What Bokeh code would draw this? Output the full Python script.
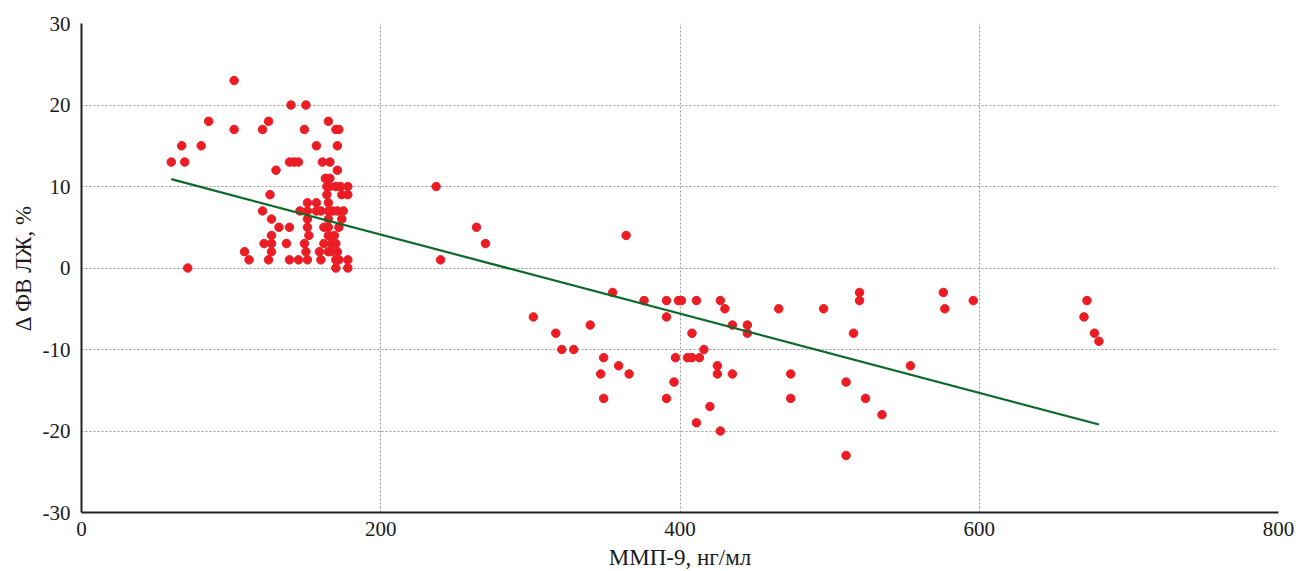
from bokeh.plotting import figure
from bokeh.models import Range1d, FixedTicker, PrintfTickFormatter
from bokeh.embed import file_html
from bokeh.resources import INLINE

# MMP-9 (ng/ml) and delta LVEF (%)
mmp9 = [
    102,
    140, 150,
    85, 125, 165,
    102, 121, 149, 170, 172,
    67, 80, 157, 171,
    60, 69, 139, 142, 145, 161, 166,
    130, 171,
    163, 166,
    164, 166, 170, 173, 178, 237,
    126, 164, 174, 178,
    151, 157, 165,
    121, 146, 151, 157, 160, 165, 168, 171, 175,
    127, 151, 165, 174,
    132, 139, 151, 162, 165, 172, 264,
    127, 152, 165, 169, 364,
    122, 127, 137, 149, 162, 167, 170, 270,
    109, 127, 150, 159, 165, 167, 171,
    112, 125, 139, 145, 151, 160, 170, 172, 178, 240,
    71, 170, 178,
    355, 520, 576,
    376, 391, 399, 401, 411, 427, 520, 596, 672,
    430, 466, 496, 577,
    302, 391, 670,
    340, 435, 445,
    317, 408, 445, 516, 677,
    680,
    321, 329, 416,
    349, 397, 405, 408, 413,
    359, 425, 554,
    347, 366, 425, 435, 474,
    396, 511,
    349, 391, 474, 524,
    420,
    535,
    411,
    427,
    511,
]
delta_lvef = (
    [23] * 1 + [20] * 2 + [18] * 3 + [17] * 5 + [15] * 4 + [13] * 7 + [12] * 2 + [11] * 2
    + [10] * 6 + [9] * 4 + [8] * 3 + [7] * 9 + [6] * 4 + [5] * 7 + [4] * 5 + [3] * 8
    + [2] * 7 + [1] * 10 + [0] * 3
    + [-3] * 3 + [-4] * 9 + [-5] * 4 + [-6] * 3 + [-7] * 3 + [-8] * 5 + [-9] * 1
    + [-10] * 3 + [-11] * 5 + [-12] * 3 + [-13] * 5 + [-14] * 2 + [-16] * 4
    + [-17] * 1 + [-18] * 1 + [-19] * 1 + [-20] * 1 + [-23] * 1
)

# regression line end points
trend_x = [60, 680]
trend_y = [10.9, -19.2]

x_ticks = [0, 200, 400, 600, 800]
y_ticks = [-30, -20, -10, 0, 10, 20, 30]

FONT = "Liberation Serif"

p = figure(frame_width=1197, frame_height=489, output_backend="svg", toolbar_location=None,
           x_range=Range1d(0, 800), y_range=Range1d(-30, 30),
           min_border_left=81, min_border_right=18, min_border_top=23, min_border_bottom=59)
p.outline_line_color = None
p.background_fill_color = "white"

p.xaxis.ticker = FixedTicker(ticks=x_ticks)
p.yaxis.ticker = FixedTicker(ticks=y_ticks)
p.xaxis.formatter = PrintfTickFormatter(format="%d")
p.yaxis.formatter = PrintfTickFormatter(format="%d")

for ax in (p.xaxis[0], p.yaxis[0]):
    ax.axis_line_color = "#222222"
    ax.axis_line_width = 2
    ax.major_tick_line_color = None
    ax.minor_tick_line_color = None
    ax.major_tick_out = 0
    ax.major_tick_in = 0
    ax.minor_tick_out = 0
    ax.minor_tick_in = 0
    ax.major_label_text_font = FONT
    ax.major_label_text_font_size = "21px"
    ax.major_label_text_color = "#1a1a1a"
    ax.axis_label_text_font = FONT
    ax.axis_label_text_font_size = "23px"
    ax.axis_label_text_font_style = "normal"
    ax.axis_label_text_color = "#1a1a1a"

p.xaxis.axis_label = "ММП-9, нг/мл"
p.yaxis.axis_label = "Δ ФВ ЛЖ, %"
p.xaxis.major_label_standoff = 9
p.yaxis.major_label_standoff = 11
p.xaxis.axis_label_standoff = 6
p.yaxis.axis_label_standoff = 4

for g in (p.xgrid[0], p.ygrid[0]):
    g.grid_line_color = "#9a9a9a"
    g.grid_line_dash = "2 2"
    g.grid_line_width = 1

p.scatter(mmp9, delta_lvef, size=8.5, fill_color="#ec1c24", line_color="#ec1c24")
p.line(trend_x, trend_y, line_color="#0d6a2b", line_width=2.2)

open("out.html", "w").write(file_html(p, INLINE))
